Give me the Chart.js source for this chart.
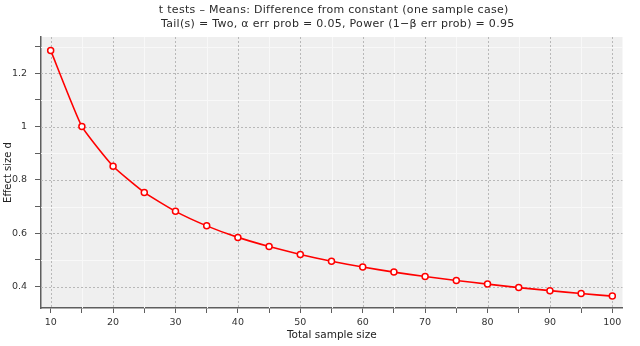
<!DOCTYPE html>
<html>
<head>
<meta charset="utf-8">
<script src="https://cdn.jsdelivr.net/npm/chart.js@4/dist/chart.umd.min.js"></script>
<style>
  html, body { margin: 0; padding: 0; background: #ffffff; }
  #wrap { width: 640px; height: 346px; }
</style>
</head>
<body>
<div id="wrap"><canvas id="c" width="640" height="346"></canvas></div>
<script>
// ---- Data ----
const titleLine1 = "t tests \u2013 Means: Difference from constant (one sample case)";
const titleLine2 = "Tail(s) = Two, \u03b1 err prob = 0.05, Power (1\u2212\u03b2 err prob) = 0.95";
const xAxisTitle = "Total sample size";
const yAxisTitle = "Effect size d";

const sampleSizes = [10, 15, 20, 25, 30, 35, 40, 45, 50, 55, 60, 65, 70, 75, 80, 85, 90, 95, 100];
const effectSizes = [1.2857, 1.0003, 0.8510, 0.7530, 0.6819, 0.6275, 0.5843, 0.5500, 0.5200, 0.4946, 0.4730, 0.4541, 0.4374, 0.4225, 0.4091, 0.3960, 0.3845, 0.3736, 0.3640];

const xTicks = [10, 15, 20, 25, 30, 35, 40, 45, 50, 55, 60, 65, 70, 75, 80, 85, 90, 95, 100];
const xTickLabels = ["10", "20", "30", "40", "50", "60", "70", "80", "90", "100"];
const yTicks = [0.4, 0.5, 0.6, 0.7, 0.8, 0.9, 1.0, 1.1, 1.2, 1.3];
const yTickLabels = ["0.4", "0.6", "0.8", "1", "1.2"];

const xRange = [8.45, 101.63];
const yRange = [0.3194, 1.336];

// ---- helpers ----
function fmt(v) { return String(Math.round(v * 10) / 10); }
function xLabel(v) { const s = String(Math.round(v)); return xTickLabels.includes(s) ? s : ''; }
function yLabel(v) { const s = fmt(v); return yTickLabels.includes(s) ? s : ''; }

const FONT = "'DejaVu Sans', 'Lucida Grande', sans-serif";
const AXIS_COLOR = '#5e5e5e';

const plotBg = {
  id: 'plotBg',
  beforeDraw(chart) {
    const { ctx, chartArea: a } = chart;
    ctx.save();
    ctx.fillStyle = '#efefef';
    ctx.fillRect(a.left, a.top, a.right - a.left, a.bottom - a.top);
    ctx.restore();
  }
};

const customGrid = {
  id: 'customGrid',
  beforeDatasetsDraw(chart) {
    const { ctx, chartArea: a, scales } = chart;
    ctx.save();
    ctx.lineWidth = 1;
    scales.x.ticks.forEach(t => {
      const px = Math.round(scales.x.getPixelForValue(t.value)) + 0.5;
      const major = xLabel(t.value) !== '';
      ctx.beginPath();
      if (major) { ctx.strokeStyle = '#b8b8b8'; ctx.setLineDash([2, 2]); }
      else { ctx.strokeStyle = '#f8f8f8'; ctx.setLineDash([]); }
      ctx.moveTo(px, a.top); ctx.lineTo(px, a.bottom); ctx.stroke();
    });
    scales.y.ticks.forEach(t => {
      const py = Math.round(scales.y.getPixelForValue(t.value)) + 0.5;
      const major = yLabel(t.value) !== '';
      ctx.beginPath();
      if (major) { ctx.strokeStyle = '#b8b8b8'; ctx.setLineDash([2, 2]); }
      else { ctx.strokeStyle = '#f8f8f8'; ctx.setLineDash([]); }
      ctx.moveTo(a.left, py); ctx.lineTo(a.right, py); ctx.stroke();
    });
    ctx.restore();
  }
};

const titles = {
  id: 'titles',
  afterDraw(chart) {
    const { ctx, chartArea: a } = chart;
    const cx = (a.left + a.right) / 2 + 2;
    ctx.save();
    ctx.fillStyle = '#2a2a2a';
    ctx.textAlign = 'center';
    ctx.textBaseline = 'alphabetic';
    ctx.font = "11px " + FONT;
    try { ctx.letterSpacing = '0.3px'; } catch (e) {}
    ctx.fillText(titleLine1, cx, 13);
    ctx.fillText(titleLine2, cx + 4, 27);
    ctx.restore();
  }
};

new Chart(document.getElementById('c'), {
  type: 'line',
  data: {
    datasets: [{
      data: sampleSizes.map((x, i) => ({ x: x, y: effectSizes[i] })),
      borderColor: '#ff0000',
      borderWidth: 1.6,
      pointRadius: 3,
      pointBorderWidth: 1.5,
      pointBackgroundColor: '#ffffff',
      pointBorderColor: '#ff0000',
      tension: 0.15,
      fill: false
    }]
  },
  options: {
    responsive: false,
    devicePixelRatio: 1,
    animation: false,
    layout: { padding: { top: 37, right: 17.5, left: 0, bottom: 0 } },
    plugins: { legend: { display: false }, tooltip: { enabled: false }, title: { display: false } },
    scales: {
      x: {
        type: 'linear',
        min: xRange[0],
        max: xRange[1],
        afterBuildTicks(scale) { scale.ticks = xTicks.map(v => ({ value: v })); },
        afterFit(scale) { scale.height = 38; },
        ticks: {
          autoSkip: false,
          maxRotation: 0,
          padding: 4,
          color: '#333333',
          font: { family: FONT, size: 9.5 },
          callback: (v) => xLabel(v)
        },
        grid: { drawOnChartArea: false, drawTicks: true, tickLength: 5, tickColor: AXIS_COLOR, lineWidth: 1 },
        border: { display: true, color: AXIS_COLOR, width: 1.5 },
        title: { display: true, text: xAxisTitle, color: '#222222', font: { family: FONT, size: 10.5 }, padding: { top: 0, bottom: 4 } }
      },
      y: {
        type: 'linear',
        min: yRange[0],
        max: yRange[1],
        afterBuildTicks(scale) { scale.ticks = yTicks.map(v => ({ value: v })); },
        afterFit(scale) { scale.width = 41; },
        ticks: {
          autoSkip: false,
          padding: 8,
          color: '#333333',
          font: { family: FONT, size: 9.5 },
          callback: (v) => yLabel(v)
        },
        grid: { drawOnChartArea: false, drawTicks: true, tickLength: 6, tickColor: AXIS_COLOR, lineWidth: 1 },
        border: { display: true, color: AXIS_COLOR, width: 1.5 },
        title: { display: true, text: yAxisTitle, color: '#222222', font: { family: FONT, size: 10 }, padding: { top: 2, bottom: 0 } }
      }
    }
  },
  plugins: [plotBg, customGrid, titles]
});
</script>
</body>
</html>
